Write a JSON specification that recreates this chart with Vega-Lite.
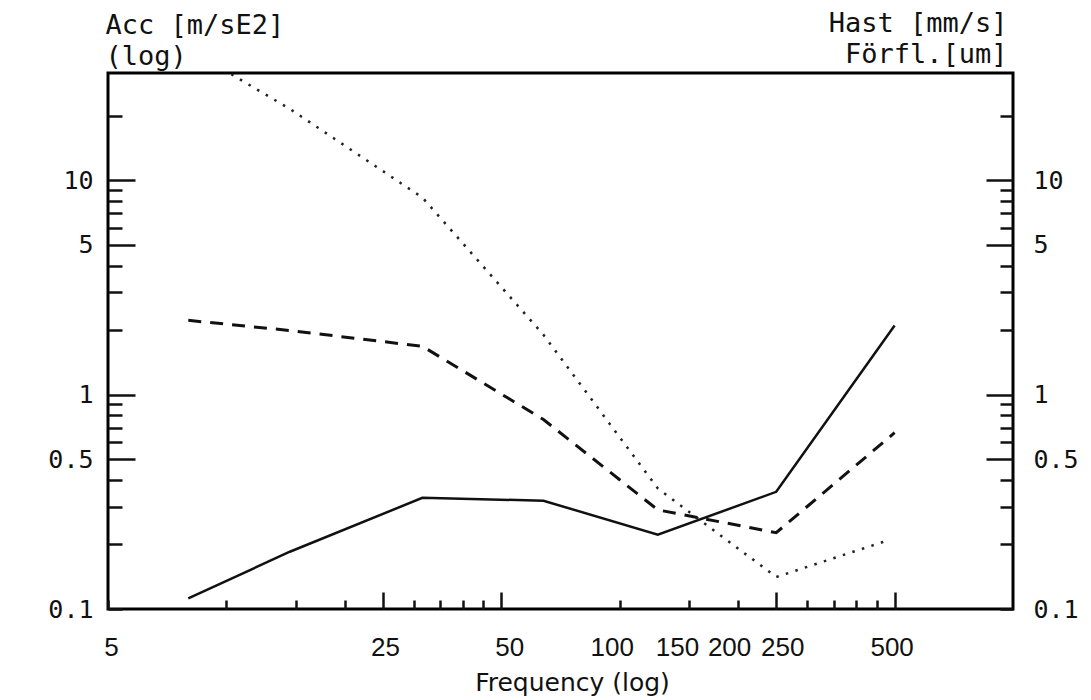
{
  "$schema": "https://vega.github.io/schema/vega-lite/v6.json",
  "width": 905,
  "height": 536,
  "autosize": {"type": "none"},
  "padding": {"left": 108, "top": 73, "right": 78, "bottom": 91},
  "background": "white",
  "config": {
    "view": {"stroke": "#000", "strokeWidth": 3},
    "axis": {"grid": false, "domain": false, "tickColor": "#111", "tickWidth": 2.5, "labelColor": "#111", "titleColor": "#111"}
  },
  "data": {
    "values": [
      {"f": 8, "v": 0.112, "s": "Acc"},
      {"f": 14.5, "v": 0.185, "s": "Acc"},
      {"f": 31.5, "v": 0.33, "s": "Acc"},
      {"f": 64, "v": 0.32, "s": "Acc"},
      {"f": 125, "v": 0.222, "s": "Acc"},
      {"f": 250, "v": 0.352, "s": "Acc"},
      {"f": 500, "v": 2.1, "s": "Acc"},
      {"f": 8, "v": 2.22, "s": "Hast"},
      {"f": 14.5, "v": 1.99, "s": "Hast"},
      {"f": 31.5, "v": 1.68, "s": "Hast"},
      {"f": 64, "v": 0.765, "s": "Hast"},
      {"f": 125, "v": 0.29, "s": "Hast"},
      {"f": 250, "v": 0.227, "s": "Hast"},
      {"f": 500, "v": 0.664, "s": "Hast"},
      {"f": 8, "v": 41, "s": "Forfl"},
      {"f": 14.5, "v": 21.5, "s": "Forfl"},
      {"f": 31.5, "v": 8.3, "s": "Forfl"},
      {"f": 64, "v": 1.9, "s": "Forfl"},
      {"f": 125, "v": 0.365, "s": "Forfl"},
      {"f": 250, "v": 0.141, "s": "Forfl"},
      {"f": 485, "v": 0.21, "s": "Forfl"}
    ]
  },
  "resolve": {"axis": {"x": "independent", "y": "independent"}},
  "layer": [
    {
      "transform": [{"filter": "datum.s == 'Acc'"}],
      "mark": {"type": "line", "color": "#111", "strokeWidth": 2.5, "clip": true},
      "encoding": {
        "x": {
          "field": "f", "type": "quantitative",
          "scale": {"type": "log", "domain": [5, 1000], "nice": false},
          "axis": {
            "orient": "bottom",
            "values": [5, 10, 15, 20, 25, 30, 35, 40, 45, 50, 100, 150, 200, 250, 300, 350, 400, 450, 500],
            "labelExpr": "indexof([5,25,50,100,150,200,250,500], datum.value) >= 0 ? format(datum.value, 'd') : ''",
            "labelOverlap": false,
            "labelFlush": false,
            "labelBound": false,
            "labelFont": "Liberation Sans",
            "labelFontSize": 26,
            "labelBaseline": "top",
            "tickSize": {"condition": {"test": "indexof([25,50,250,500], datum.value) >= 0", "value": -17}, "value": -9},
            "labelPadding": {"condition": {"test": "indexof([25,50,250,500], datum.value) >= 0", "value": 42}, "value": 34},
            "labelOffset": {"condition": [
              {"test": "datum.value == 5", "value": 3},
              {"test": "datum.value == 50", "value": 8},
              {"test": "datum.value == 100", "value": -8},
              {"test": "datum.value == 150", "value": -12},
              {"test": "datum.value == 200", "value": -9},
              {"test": "datum.value == 250", "value": 6},
              {"test": "datum.value == 500", "value": -3}
            ], "value": 2},
            "title": "Frequency (log)",
            "titleFont": "DejaVu Sans",
            "titleFontSize": 25,
            "titleFontWeight": "normal",
            "titleX": 464,
            "titleY": 81,
            "titleBaseline": "alphabetic",
            "titleLimit": 600
          }
        },
        "y": {
          "field": "v", "type": "quantitative",
          "scale": {"type": "log", "domain": [0.1, 31.62], "nice": false},
          "axis": {
            "orient": "left",
            "values": [0.1, 0.2, 0.3, 0.4, 0.5, 0.6, 0.7, 0.8, 0.9, 1, 2, 3, 4, 5, 6, 7, 8, 9, 10, 20],
            "labelExpr": "indexof([0.1,0.5,1,5,10], datum.value) >= 0 ? format(datum.value, '~g') : ''",
            "labelOverlap": false,
            "labelFlush": false,
            "labelBound": false,
            "labelFont": "DejaVu Sans Mono",
            "labelFontSize": 25,
            "tickSize": {"condition": {"test": "indexof([0.5,1,5,10], datum.value) >= 0", "value": -27}, "value": -14},
            "labelPadding": {"condition": {"test": "indexof([0.5,1,5,10], datum.value) >= 0", "value": 42}, "value": 29},
            "title": ["Acc [m/sE2]", "(log)"],
            "titleFont": "DejaVu Sans Mono",
            "titleFontSize": 27,
            "titleFontWeight": "normal",
            "titleAngle": 0,
            "titleAlign": "left",
            "titleBaseline": "alphabetic",
            "titleLineHeight": 31,
            "titleLimit": 600,
            "titleX": -3,
            "titleY": -40
          }
        }
      }
    },
    {
      "transform": [{"filter": "datum.s == 'Hast'"}],
      "mark": {"type": "line", "color": "#111", "strokeWidth": 3, "strokeDash": [13, 9], "clip": true},
      "encoding": {
        "x": {
          "field": "f", "type": "quantitative",
          "scale": {"type": "log", "domain": [5, 1000], "nice": false},
          "axis": {
            "orient": "top",
            "labels": false,
            "ticks": false,
            "domain": false,
            "grid": false,
            "title": ["Hast [mm/s]", "Förfl.[um]"],
            "titleFont": "DejaVu Sans Mono",
            "titleFontSize": 27,
            "titleFontWeight": "normal",
            "titleAngle": 0,
            "titleAlign": "right",
            "titleBaseline": "alphabetic",
            "titleLineHeight": 31,
            "titleLimit": 600,
            "titleX": 899,
            "titleY": -42
          }
        },
        "y": {
          "field": "v", "type": "quantitative",
          "scale": {"type": "log", "domain": [0.1, 31.62], "nice": false},
          "axis": {
            "orient": "right",
            "values": [0.1, 0.2, 0.3, 0.4, 0.5, 0.6, 0.7, 0.8, 0.9, 1, 2, 3, 4, 5, 6, 7, 8, 9, 10, 20],
            "labelExpr": "indexof([0.1,0.5,1,5,10], datum.value) >= 0 ? format(datum.value, '~g') : ''",
            "labelOverlap": false,
            "labelFlush": false,
            "labelBound": false,
            "labelFont": "DejaVu Sans Mono",
            "labelFontSize": 25,
            "tickSize": {"condition": {"test": "indexof([0.5,1,5,10], datum.value) >= 0", "value": -27}, "value": -13},
            "labelPadding": {"condition": {"test": "indexof([0.5,1,5,10], datum.value) >= 0", "value": 47}, "value": 33},
            "title": null
          }
        }
      }
    },
    {
      "transform": [{"filter": "datum.s == 'Forfl'"}],
      "mark": {"type": "line", "color": "#222", "strokeWidth": 2.5, "strokeDash": [2.5, 7.5], "clip": true},
      "encoding": {
        "x": {"field": "f", "type": "quantitative", "scale": {"type": "log", "domain": [5, 1000], "nice": false}, "axis": null},
        "y": {"field": "v", "type": "quantitative", "scale": {"type": "log", "domain": [0.1, 31.62], "nice": false}, "axis": null}
      }
    }
  ]
}
